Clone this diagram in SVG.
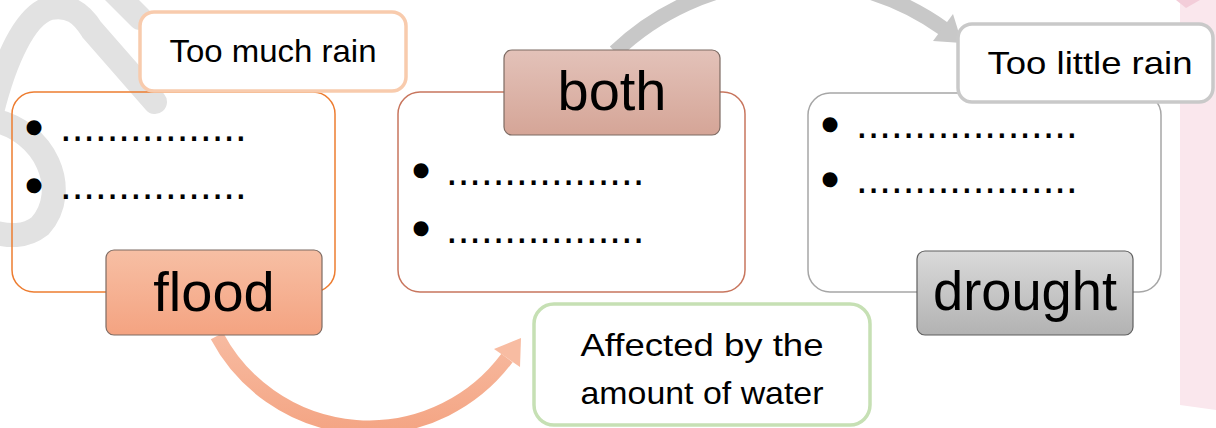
<svg xmlns="http://www.w3.org/2000/svg" width="1216" height="428" viewBox="0 0 1216 428">
<defs>
<linearGradient id="gFlood" x1="0" y1="0" x2="0" y2="1"><stop offset="0" stop-color="#f7bfa4"/><stop offset="1" stop-color="#f4a381"/></linearGradient>
<linearGradient id="gBoth" x1="0" y1="0" x2="0" y2="1"><stop offset="0" stop-color="#e3c2b9"/><stop offset="1" stop-color="#d5a597"/></linearGradient>
<linearGradient id="gDrought" x1="0" y1="0" x2="0" y2="1"><stop offset="0" stop-color="#dadada"/><stop offset="1" stop-color="#b2b2b2"/></linearGradient>
<linearGradient id="gArrow" gradientUnits="userSpaceOnUse" x1="0" y1="337" x2="0" y2="430"><stop offset="0" stop-color="#f7baa0"/><stop offset="1" stop-color="#f4a584"/></linearGradient>
</defs>
<style>
.wm{fill:none;stroke:#e2e2e2;stroke-width:24;stroke-linecap:round}
.note{fill:#ffffff;stroke-width:3.5}
.list{fill:none;stroke-width:1.5}
.label{stroke-width:1.2}
.ctext{font-family:"Comic Sans MS","Liberation Sans",sans-serif;font-size:32px;fill:#000;text-anchor:middle}
.ltext{font-family:"Liberation Sans",Arial,sans-serif;font-size:56px;fill:#000;text-anchor:middle}
.item{font-family:"Liberation Sans",Arial,sans-serif;fill:#000}
.bul{font-size:46px;stroke:#000;stroke-width:2.4}
.dots{font-size:42px}
</style>
<rect x="0" y="0" width="1216" height="428" fill="#ffffff"/>
<g id="background">
<polygon points="1180,0 1216,0 1216,410 1180,405" fill="#fae7ed"/>
<polygon points="1176,0 1200,0 1186,8" fill="#f3cdd9"/>
<path class="wm" d="M -8 112 C 5 60 25 15 50 8 C 70 4 82 14 92 30 L 155 102"/>
<path class="wm" d="M 112 -10 L 140 18"/>
<path class="wm" d="M -8 120 C 45 130 72 190 40 226 C 25 238 8 236 -8 232"/>
</g>
<g id="connectors">
<path d="M 217 336 A 172 172 0 0 0 507 358" fill="none" stroke="url(#gArrow)" stroke-width="14"/>
<polygon points="521,338 520,367 494,349" fill="#f8bca2"/>
<path d="M 615 52 A 258 258 0 0 1 944 29" fill="none" stroke="#c8c8c8" stroke-width="15"/>
<polygon points="933,41 953,14 962,43" fill="#c8c8c8"/>
</g>
<g id="flood-list">
<rect class="list" x="12" y="92" width="323" height="200" rx="22" stroke="#ed7d31"/>
<text class="item"><tspan class="bul" x="26" y="143">•</tspan><tspan class="dots" x="60" y="141">................</tspan></text>
<text class="item"><tspan class="bul" x="26" y="201">•</tspan><tspan class="dots" x="60" y="199">................</tspan></text>
</g>
<g id="both-list">
<rect class="list" x="398" y="92" width="347" height="200" rx="22" stroke="#c8765e"/>
<text class="item"><tspan class="bul" x="413" y="186">•</tspan><tspan class="dots" x="446" y="185">.................</tspan></text>
<text class="item"><tspan class="bul" x="413" y="244">•</tspan><tspan class="dots" x="446" y="243">.................</tspan></text>
</g>
<g id="drought-list">
<rect class="list" x="808" y="93" width="353" height="199" rx="22" stroke="#a6a6a6"/>
<text class="item"><tspan class="bul" x="822" y="140">•</tspan><tspan class="dots" x="856" y="138">...................</tspan></text>
<text class="item"><tspan class="bul" x="822" y="195">•</tspan><tspan class="dots" x="856" y="193">...................</tspan></text>
</g>
<g id="too-much-rain">
<rect class="note" x="140" y="12" width="266" height="79" rx="14" stroke="#f8cbad"/>
<text class="ctext" x="273" y="62" textLength="207" lengthAdjust="spacingAndGlyphs">Too much rain</text>
</g>
<g id="too-little-rain">
<rect class="note" x="958" y="24" width="255" height="78" rx="14" stroke="#c9c9c9" stroke-width="4.5"/>
<text class="ctext" x="1090" y="74" textLength="205" lengthAdjust="spacingAndGlyphs">Too little rain</text>
</g>
<g id="flood">
<rect class="label" x="106" y="250" width="216" height="85" rx="8" fill="url(#gFlood)" stroke="#7d6b63"/>
<text class="ltext" x="214" y="311">flood</text>
</g>
<g id="both">
<rect class="label" x="504" y="50" width="216" height="85" rx="8" fill="url(#gBoth)" stroke="#7d6b63"/>
<text class="ltext" x="612" y="110">both</text>
</g>
<g id="drought">
<rect class="label" x="917" y="251" width="216" height="84" rx="8" fill="url(#gDrought)" stroke="#5f5f5f"/>
<text class="ltext" x="1025" y="310" textLength="184" lengthAdjust="spacingAndGlyphs">drought</text>
</g>
<g id="affected">
<rect class="note" x="534" y="304" width="336" height="121" rx="20" stroke="#c6e0b4" stroke-width="4"/>
<text class="ctext" x="702" y="356" textLength="243" lengthAdjust="spacingAndGlyphs">Affected by the</text>
<text class="ctext" x="702" y="404" textLength="243" lengthAdjust="spacingAndGlyphs">amount of water</text>
</g>
</svg>
